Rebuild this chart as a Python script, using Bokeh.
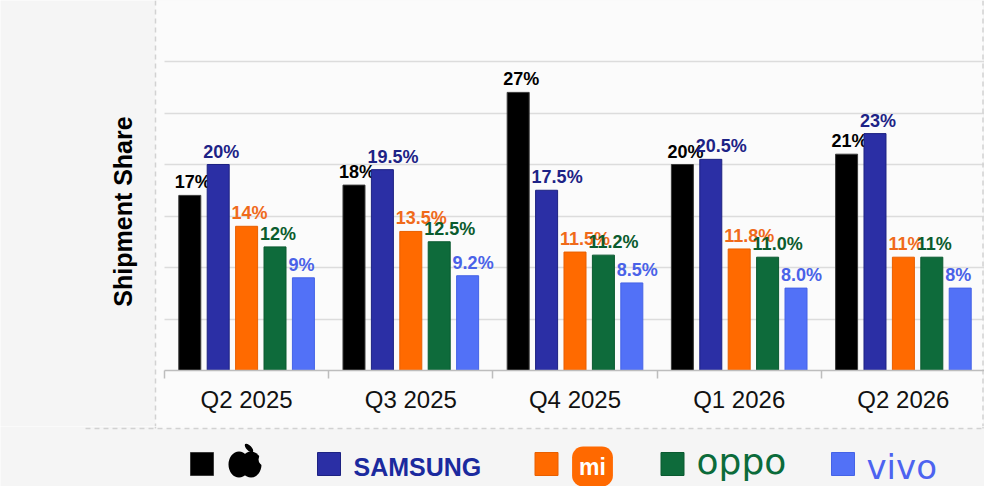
import numpy as np
from bokeh.plotting import figure
from bokeh.models import Range1d, FixedTicker, ColumnDataSource, Label, BoxAnnotation
from bokeh.layouts import column
from bokeh.embed import file_html
from bokeh.resources import INLINE
from bokeh.core.properties import value
from bokeh.transform import dodge

# ---------------- data ----------------
quarters = ["Q2 2025", "Q3 2025", "Q4 2025", "Q1 2026", "Q2 2026"]
brands = ["Apple", "Samsung", "Xiaomi", "OPPO", "vivo"]
apple = [17, 18, 27, 20, 21]
samsung = [20, 19.5, 17.5, 20.5, 23]
xiaomi = [14, 13.5, 11.5, 11.8, 11]
oppo = [12, 12.5, 11.2, 11.0, 11]
vivo = [9, 9.2, 8.5, 8.0, 8]
apple_labels = ["17%", "18%", "27%", "20%", "21%"]
samsung_labels = ["20%", "19.5%", "17.5%", "20.5%", "23%"]
xiaomi_labels = ["14%", "13.5%", "11.5%", "11.8%", "11%"]
oppo_labels = ["12%", "12.5%", "11.2%", "11.0%", "11%"]
vivo_labels = ["9%", "9.2%", "8.5%", "8.0%", "8%"]
grid_ticks = [5, 10, 15, 20, 25, 30]
y_title = "Shipment Share"

# ---------------- styles ----------------
bar_colors = ["#000000", "#2b2fa5", "#ff6a00", "#0e6b3b", "#5271f7"]
bar_lines = ["#3a3a3a", "#1d2282", "#e85f00", "#0a5a30", "#4563e6"]
label_colors = ["#000000", "#1d2386", "#f06a1a", "#0b5c2e", "#4a62e8"]
BG = "#f5f5f5"
INNER_BG = "#fbfbfb"
DASH = "#d2d2d2"
FONT = "Liberation Sans"

# ---------------- geometry (pixels) ----------------
W = 984
CH = 426          # chart figure height
LH = 60           # legend figure height
PX_CAT = 164.2    # pixels per category
X0 = 164          # px where first category starts
PX_PCT = 10.3     # pixels per percent
BASE = 370        # px (from top) of 0%
BAR_W = 0.134
BAR_STEP = 0.173
FRAME_BOTTOM_PX = 428
FRAME_LEFT_PX = 155
FRAME_RIGHT_PX = 982.5
DASH_START_PX = 85

x_start = -X0 / PX_CAT
x_end = (W - X0) / PX_CAT
y_end = BASE / PX_PCT
y_start = -(CH - BASE) / PX_PCT

def px_to_x(px):
    return (px - X0) / PX_CAT

def py_to_y(py):
    return (BASE - py) / PX_PCT

p = figure(width=W, height=CH, x_range=Range1d(x_start, x_end),
           y_range=Range1d(y_start, y_end), output_backend="svg",
           toolbar_location=None, min_border=0)
p.background_fill_color = BG
p.border_fill_color = BG
p.outline_line_color = None

# inner lighter panel, dashed frame lines
left_x = px_to_x(FRAME_LEFT_PX)
right_x = px_to_x(FRAME_RIGHT_PX)
bottom_y = py_to_y(FRAME_BOTTOM_PX)
inner = BoxAnnotation(left=left_x, right=right_x,
                      fill_color=INNER_BG, fill_alpha=1, line_color=None, level="image")
p.add_layout(inner)
p.segment(x0=[left_x, right_x], y0=[bottom_y, bottom_y],
          x1=[left_x, right_x], y1=[y_end, y_end],
          line_color=DASH, line_width=1.5, line_dash="5 4")

# grid
p.xgrid.visible = False
p.ygrid.ticker = FixedTicker(ticks=grid_ticks)
p.ygrid.grid_line_color = "#dcdcdc"
p.ygrid.grid_line_width = 1.5
try:
    p.ygrid.cross_bounds = (0, len(quarters))
except Exception:
    pass

# axes
p.yaxis.visible = False
cat_centers = [i + 0.5 for i in range(len(quarters))]
p.xaxis.ticker = FixedTicker(ticks=cat_centers, minor_ticks=list(range(len(quarters) + 1)))
p.xaxis.major_label_overrides = {c: q for c, q in zip(cat_centers, quarters)}
p.xaxis.fixed_location = 0
p.xaxis.bounds = (0, len(quarters))
p.xaxis.axis_line_color = "#bdbdbd"
p.xaxis.axis_line_width = 1.5
p.xaxis.major_tick_line_color = None
p.xaxis.major_tick_out = 0
p.xaxis.major_tick_in = 0
p.xaxis.minor_tick_line_color = "#bdbdbd"
p.xaxis.minor_tick_line_width = 1.5
p.xaxis.minor_tick_out = 8
p.xaxis.minor_tick_in = 0
p.xaxis.major_label_text_font = FONT
p.xaxis.major_label_text_font_size = "24px"
p.xaxis.major_label_text_color = "#111111"
p.xaxis.major_label_standoff = 7

series = [apple, samsung, xiaomi, oppo, vivo]
series_labels = [apple_labels, samsung_labels, xiaomi_labels, oppo_labels, vivo_labels]
for i, (vals, labs) in enumerate(zip(series, series_labels)):
    src = ColumnDataSource(dict(x=cat_centers, top=vals, label=labs))
    off = (i - 2) * BAR_STEP
    p.vbar(x=dodge("x", off, range=p.x_range), top="top", width=BAR_W, bottom=0,
           source=src, fill_color=bar_colors[i], line_color=bar_lines[i], line_width=1)
    p.text(x=dodge("x", off, range=p.x_range), y="top", text="label", source=src,
           text_align="left", text_baseline="alphabetic", x_offset=-15, y_offset=-13,
           text_font=value(FONT), text_font_style="bold", text_font_size="18px",
           text_color=label_colors[i])

p.add_layout(Label(x=px_to_x(122), y=py_to_y(211), text=y_title, angle=np.pi / 2,
                   text_align="center", text_baseline="middle", text_font=FONT,
                   text_font_style="bold", text_font_size="25px", text_color="#000000"))

# ---------------- legend figure (coords = page pixels) ----------------
lp = figure(width=W, height=LH, x_range=Range1d(0, W), y_range=Range1d(CH + LH, CH),
            output_backend="svg", toolbar_location=None, min_border=0)
lp.background_fill_color = BG
lp.border_fill_color = BG
lp.outline_line_color = None
lp.axis.visible = False
lp.grid.visible = False

# inner panel continuation and horizontal dashed separator
lp.quad(left=[FRAME_LEFT_PX], right=[FRAME_RIGHT_PX], top=[CH], bottom=[FRAME_BOTTOM_PX],
        fill_color=INNER_BG, line_color=None)
lp.segment(x0=[FRAME_LEFT_PX, FRAME_RIGHT_PX], y0=[CH, CH],
           x1=[FRAME_LEFT_PX, FRAME_RIGHT_PX], y1=[FRAME_BOTTOM_PX, FRAME_BOTTOM_PX],
           line_color=DASH, line_width=1.5)
lp.segment(x0=[DASH_START_PX], y0=[FRAME_BOTTOM_PX], x1=[W], y1=[FRAME_BOTTOM_PX],
           line_color=DASH, line_width=1.5, line_dash="5 4")

sw_x = [201.5, 328.5, 546, 672, 842.5]
sw_y = 463.5
lp.rect(x=sw_x, y=[sw_y] * 5, width=23, height=23, fill_color=bar_colors, line_color=bar_lines)

# apple mark
lp.ellipse(x=[238.5, 250.5], y=[464, 464], width=21, height=26, fill_color="#000000", line_color=None)
lp.circle(x=[264.5], y=[459], radius=6.5, fill_color=BG, line_color=None)
lp.ellipse(x=[248.5], y=[447.5], width=11, height=5, angle=-0.8, fill_color="#000000", line_color=None)

lp.text(x=[353], y=[466], text=["SAMSUNG"], text_font=value(FONT), text_font_style="bold",
        text_font_size="25px", text_color="#1b2a9e", text_align="left", text_baseline="alphabetic")
mi = Label(x=592, y=466, text="mi", text_font=FONT, text_font_style="bold", text_font_size="23px",
           text_color="#ffffff", text_align="center", text_baseline="middle",
           background_fill_color="#ff6900", background_fill_alpha=1)
try:
    mi.border_radius = 11
    mi.padding = 7
except Exception:
    pass
lp.add_layout(mi)
lp.text(x=[696], y=[461], text=["oppo"], text_font=value("DejaVu Sans"), text_font_size="36px",
        text_color="#0b6b3a", text_align="left", text_baseline="alphabetic")
lp.text(x=[866], y=[466], text=["vivo"], text_font=value("DejaVu Sans"), text_font_size="34px",
        text_color="#4d63f0", text_align="left", text_baseline="alphabetic")

layout = column(p, lp, spacing=0)
open("out.html", "w").write(file_html(layout, INLINE))
